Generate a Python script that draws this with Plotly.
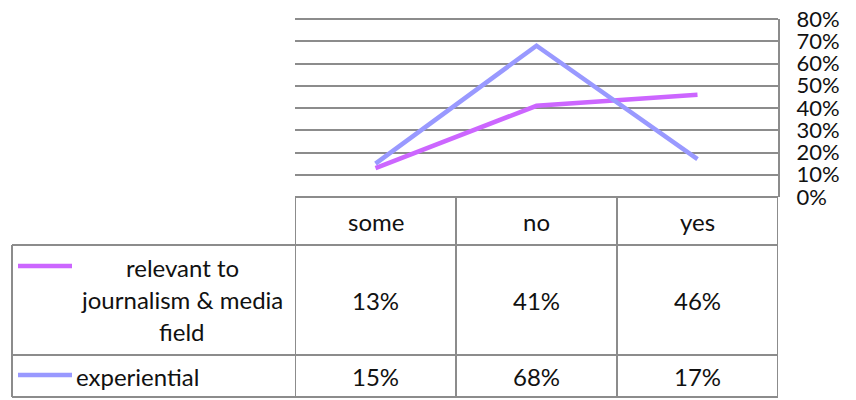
import plotly.graph_objects as go

# Survey responses: share of answers per category
categories = ["some", "no", "yes"]
series_names = ["relevant to journalism & media field", "experiential"]
series_label_lines = [["relevant to", "journalism & media", "field"], ["experiential"]]
relevant_values = [0.13, 0.41, 0.46]
experiential_values = [0.15, 0.68, 0.17]
series_values = [relevant_values, experiential_values]
series_colors = ["#CC66FF", "#9999FF"]

W, H = 856, 400
FONT = "Lato"
TXT = "#111111"
BORDER = "#8c8c8c"

# pixel layout helpers (top-origin pixels -> paper coordinates)
def px_x(x):
    return x / W

def px_y(y):
    return 1 - y / H

plot_left, plot_right = 295, 778
plot_top, plot_bottom = 19, 197
row_header_bottom = 245
row_1_bottom = 355
row_2_bottom = 397
table_left = 12

fig = go.Figure()
for name, vals, col in zip(series_names, series_values, series_colors):
    fig.add_trace(go.Scatter(
        x=categories, y=vals, mode="lines", name=name,
        line=dict(color=col, width=4.5), hoverinfo="skip", showlegend=False,
    ))

shapes = []
def hline(y, x0, x1):
    shapes.append(dict(type="line", xref="paper", yref="paper",
                       x0=px_x(x0), x1=px_x(x1), y0=px_y(y), y1=px_y(y),
                       line=dict(color=BORDER, width=2)))

def vline_cat(xc, y0, y1):
    shapes.append(dict(type="line", xref="x", yref="paper",
                       x0=xc, x1=xc, y0=px_y(y0), y1=px_y(y1),
                       line=dict(color=BORDER, width=2)))

# top edge of the value grid
hline(plot_top, plot_left, plot_right)
# data table grid under the plot
hline(plot_bottom, plot_left, plot_right)
for y in (row_header_bottom, row_1_bottom, row_2_bottom):
    hline(y, table_left, plot_right)
shapes.append(dict(type="line", xref="paper", yref="paper",
                   x0=px_x(table_left), x1=px_x(table_left),
                   y0=px_y(row_header_bottom), y1=px_y(row_2_bottom),
                   line=dict(color=BORDER, width=2)))
for i in range(len(categories) + 1):
    vline_cat(i - 0.5, plot_bottom, row_2_bottom)

# legend keys inside the table
key_rows = [266, 375]
for ky, col in zip(key_rows, series_colors):
    shapes.append(dict(type="line", xref="paper", yref="paper",
                       x0=px_x(18), x1=px_x(72), y0=px_y(ky), y1=px_y(ky),
                       line=dict(color=col, width=4.5)))

annotations = []
def text(x, y, s, xref="paper", xanchor="center"):
    annotations.append(dict(x=x, y=px_y(y), xref=xref, yref="paper", text=s,
                            showarrow=False, xanchor=xanchor, yanchor="middle",
                            font=dict(family=FONT, size=24, color=TXT)))

header_y = (plot_bottom + row_header_bottom) / 2
row_centers = [(row_header_bottom + row_1_bottom) / 2, (row_1_bottom + row_2_bottom) / 2]
for i, c in enumerate(categories):
    text(i, header_y, c, xref="x")
for vals, ry in zip(series_values, row_centers):
    for i, v in enumerate(vals):
        text(i, ry, f"{round(v * 100)}%", xref="x")

# series labels in the first column
for ln, y in zip(series_label_lines[0], [267, 299, 331]):
    text(px_x(182), y, ln)
text(px_x(74), row_centers[1], series_label_lines[1][0], xanchor="left")

fig.update_layout(
    width=W, height=H, margin=dict(l=0, r=0, t=0, b=0, autoexpand=False),
    paper_bgcolor="white", plot_bgcolor="white",
    shapes=shapes, annotations=annotations,
    xaxis=dict(domain=[px_x(plot_left), px_x(plot_right)], range=[-0.5, 2.5],
               showgrid=False, showticklabels=False, zeroline=False, showline=False,
               automargin=False),
    yaxis=dict(domain=[px_y(plot_bottom), px_y(plot_top)], range=[0, 0.8],
               dtick=0.1, tickformat=".0%", side="right", automargin=False,
               showgrid=True, gridcolor=BORDER, gridwidth=1.5, zeroline=False,
               showline=True, linecolor=BORDER, linewidth=2,
               ticks="", ticklabelstandoff=12,
               tickfont=dict(family=FONT, size=22, color=TXT)),
)

fig.write_html("out.html")
